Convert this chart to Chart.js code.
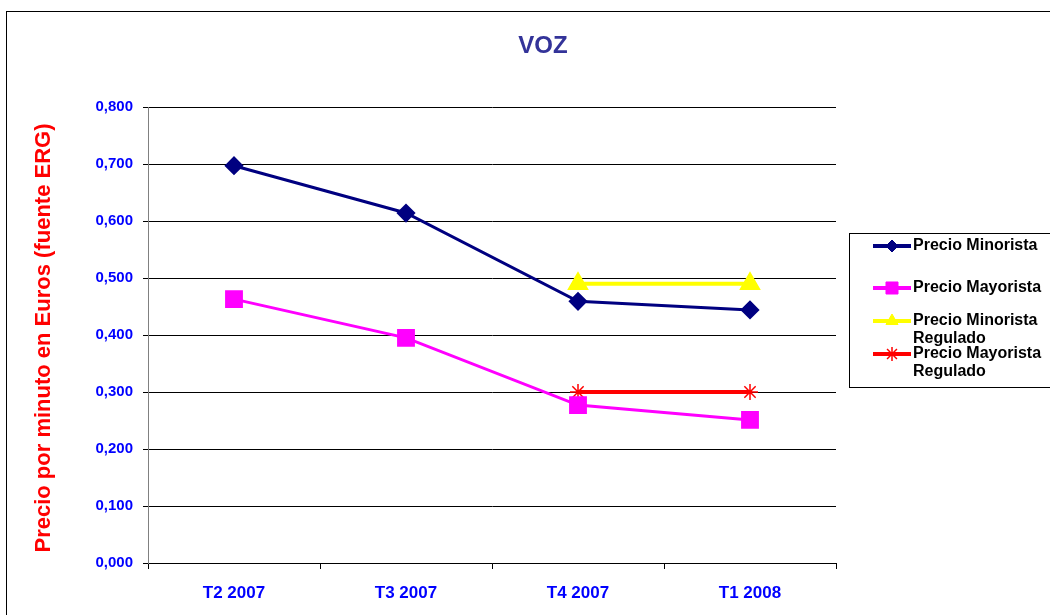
<!DOCTYPE html>
<html>
<head>
<meta charset="utf-8">
<script src="https://cdn.jsdelivr.net/npm/chart.js@4/dist/chart.umd.min.js"></script>
<style>
  html, body { margin: 0; padding: 0; background: #ffffff; }
  #wrap { position: relative; width: 1050px; height: 615px; }
</style>
</head>
<body>
<div id="wrap"><canvas id="c" width="1050" height="615"></canvas></div>
<script>
// ---- data ----
const chartTitle = 'VOZ';
const yAxisTitle = 'Precio por minuto en Euros (fuente ERG)';
const categories = ['T2 2007', 'T3 2007', 'T4 2007', 'T1 2008'];
const seriesNames = ['Precio Minorista', 'Precio Mayorista', 'Precio Minorista Regulado', 'Precio Mayorista Regulado'];
const precioMinorista = [0.697, 0.614, 0.459, 0.444];
const precioMayorista = [0.463, 0.395, 0.277, 0.251];
const precioMinoristaRegulado = [null, null, 0.490, 0.490];
const precioMayoristaRegulado = [null, null, 0.300, 0.300];
const yMin = 0, yMax = 0.8, yStep = 0.1;

const FONT = "'Liberation Sans', Arial, sans-serif";
const colors = ['#000080', '#FF00FF', '#FFFF00', '#FF0000'];
const styles = ['rectRot', 'rect', 'triangle', 'star'];

const frame = {
  id: 'frame',
  beforeDraw(chart) {
    const ctx = chart.ctx;
    ctx.save();
    ctx.fillStyle = '#ffffff';
    ctx.fillRect(0, 0, chart.width, chart.height);
    ctx.strokeStyle = '#000000';
    ctx.lineWidth = 1;
    ctx.strokeRect(6.5, 11.5, 1200, 800);
    ctx.restore();
  },
  afterDraw(chart) {
    const ctx = chart.ctx;
    ctx.save();
    // title
    ctx.fillStyle = '#333399';
    ctx.font = 'bold 24px ' + FONT;
    ctx.textAlign = 'center';
    ctx.textBaseline = 'middle';
    ctx.fillText(chartTitle, 543, 46);
    // y-axis title
    ctx.save();
    ctx.translate(44, 338);
    ctx.rotate(-Math.PI / 2);
    ctx.fillStyle = '#FF0000';
    ctx.font = 'bold 22px ' + FONT;
    ctx.fillText(yAxisTitle, 0, 0);
    ctx.restore();
    // legend
    ctx.strokeStyle = '#000000';
    ctx.lineWidth = 1;
    ctx.strokeRect(849.5, 233.5, 400, 154);
    const rowY = [246, 288, 321, 354];
    ctx.font = 'bold 16px ' + FONT;
    ctx.textAlign = 'left';
    ctx.textBaseline = 'middle';
    chart.data.datasets.forEach((ds, i) => {
      const y = rowY[i];
      ctx.strokeStyle = ds.borderColor;
      ctx.lineWidth = 4;
      ctx.beginPath();
      ctx.moveTo(873, y);
      ctx.lineTo(911, y);
      ctx.stroke();
      const opt = {
        pointStyle: ds.pointStyle,
        radius: ds.legendRadius,
        borderWidth: ds.pointStyle === 'star' ? 1.5 : 1,
        rotation: 0
      };
      ctx.fillStyle = ds.borderColor;
      ctx.strokeStyle = ds.borderColor;
      ctx.lineWidth = opt.borderWidth;
      Chart.helpers.drawPoint(ctx, opt, 892, y);
      // text with word wrap
      ctx.fillStyle = '#000000';
      const words = ds.label.split(' ');
      let line = '', lines = [];
      words.forEach(w => {
        const test = line ? line + ' ' + w : w;
        if (ctx.measureText(test).width > 135 && line) { lines.push(line); line = w; }
        else line = test;
      });
      lines.push(line);
      lines.forEach((t, k) => ctx.fillText(t, 913, y + k * 18));
    });
    ctx.restore();
  }
};

const datasets = [
  { label: seriesNames[0], data: precioMinorista, borderColor: colors[0], backgroundColor: colors[0],
    pointStyle: styles[0], pointRadius: 7.5, pointHoverRadius: 7.5, borderWidth: 3, legendRadius: 6 },
  { label: seriesNames[1], data: precioMayorista, borderColor: colors[1], backgroundColor: colors[1],
    pointStyle: styles[1], pointRadius: 10.5, pointHoverRadius: 10.5, borderWidth: 3, legendRadius: 8.5 },
  { label: seriesNames[2], data: precioMinoristaRegulado, borderColor: colors[2], backgroundColor: colors[2],
    pointStyle: styles[2], pointRadius: 8.5, pointHoverRadius: 8.5, borderWidth: 4, legendRadius: 7 },
  { label: seriesNames[3], data: precioMayoristaRegulado, borderColor: colors[3], backgroundColor: colors[3],
    pointStyle: styles[3], pointRadius: 8, pointHoverRadius: 8, borderWidth: 4, pointBorderWidth: 1.5, legendRadius: 7 }
];

new Chart(document.getElementById('c'), {
  type: 'line',
  data: { labels: categories, datasets: datasets },
  options: {
    responsive: false,
    animation: false,
    events: [],
    layout: { padding: { top: 107, right: 214, bottom: 0, left: 0 } },
    plugins: { legend: { display: false }, title: { display: false }, tooltip: { enabled: false } },
    elements: { line: { tension: 0 } },
    scales: {
      x: {
        type: 'category',
        offset: true,
        afterFit(s) { s.height = 52; },
        grid: { offset: true, drawOnChartArea: false, drawTicks: true, tickLength: 6, color: '#000000', lineWidth: 1 },
        border: { color: '#000000', width: 1 },
        ticks: { color: '#0000FF', font: { family: FONT, size: 17, weight: 'bold' }, padding: 14, maxRotation: 0 }
      },
      y: {
        min: yMin, max: yMax,
        afterFit(s) { s.width = 148; },
        grid: { color: '#000000', lineWidth: 1, tickLength: 5 },
        border: { color: '#808080', width: 1 },
        ticks: {
          stepSize: yStep,
          color: '#0000FF',
          font: { family: FONT, size: 15, weight: 'bold' },
          padding: 10,
          callback: v => Number(v).toFixed(3).replace('.', ',')
        }
      }
    }
  },
  plugins: [frame]
});
</script>
</body>
</html>
